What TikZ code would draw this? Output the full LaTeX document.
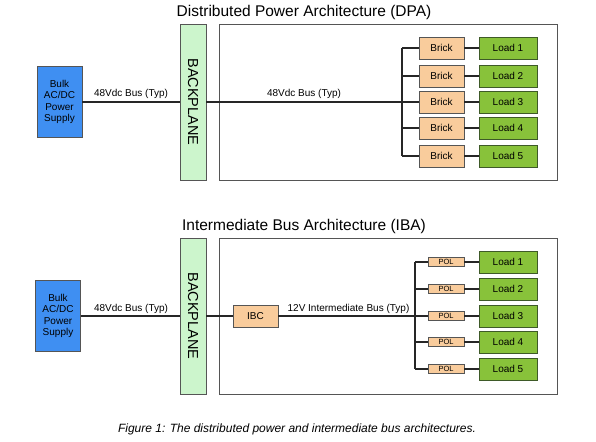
\documentclass[tikz,border=0pt]{standalone}
\usepackage{fontspec}
\setmainfont{Liberation Sans}
\definecolor{bulkblue}{HTML}{3F8FF2}
\definecolor{bpgreen}{HTML}{CCF5CC}
\definecolor{brickc}{HTML}{F9CC9C}
\definecolor{loadc}{HTML}{88C23A}
\definecolor{loadb}{HTML}{3E5A28}
\definecolor{edgec}{HTML}{555555}
\begin{document}
\begin{tikzpicture}[x=1pt,y=-1pt,
  bulk/.style={draw=edgec,line width=0.8pt,fill=bulkblue,minimum width=45pt,minimum height=71pt,inner sep=0pt,align=center,font=\fontsize{10}{11.5}\selectfont},
  bplane/.style={draw=edgec,line width=0.8pt,fill=bpgreen,minimum width=26pt,minimum height=156pt,inner sep=0pt},
  bigbox/.style={draw=edgec,line width=0.8pt},
  brick/.style={draw=edgec,line width=0.8pt,fill=brickc,minimum width=45pt,minimum height=22pt,inner sep=0pt,font=\fontsize{10}{12}\selectfont},
  pol/.style={draw=edgec,line width=0.8pt,fill=brickc,minimum width=36pt,minimum height=9pt,inner sep=0pt,font=\fontsize{7.5}{8}\selectfont},
  load/.style={draw=loadb,line width=0.8pt,fill=loadc,minimum width=58pt,minimum height=22pt,inner sep=0pt,font=\fontsize{10}{12}\selectfont},
  wire/.style={line width=1.1pt,black!85},
  lbl/.style={font=\fontsize{10}{12}\selectfont,inner sep=0pt,anchor=base},
  ttl/.style={font=\fontsize{15.5}{18}\selectfont,inner sep=0pt}]
\useasboundingbox (0,0) rectangle (596,441);

% ---------- DPA ----------
\node[ttl] (t1) at (304,12) {Distributed Power Architecture (DPA)};
\node[bulk] (bulk1) at (59.5,102) {Bulk\\AC/DC\\Power\\Supply};
\node[bplane] (bp1) at (193,102) {};
\node[rotate=-90,font=\fontsize{14.5}{16}\selectfont,inner sep=0pt] (bpt1) at (193,102) {BACKPLANE};
\node[bigbox,minimum width=338pt,minimum height=156pt,inner sep=0pt] (box1) at (388,102) {};
\coordinate (v1) at (402,102);
\coordinate (v1t) at (402,48);
\coordinate (v1b) at (402,156);
\draw[wire] (bulk1.east) -- (bp1.west);
\draw[wire] (bp1.east) -- (v1);
\draw[wire] (v1t) -- (v1b);
\node[lbl] (l1a) at (131,97) {48Vdc Bus (Typ)};
\node[lbl] (l1b) at (304,97) {48Vdc Bus (Typ)};
\foreach \i/\y in {1/48,2/76,3/102,4/128,5/156}{
  \node[brick] (br\i) at (441.5,\y) {Brick};
  \node[load] (ld\i) at (508,\y) {Load \i};
  \draw[wire] (402,\y) -- (br\i.west);
  \draw[wire] (br\i.east) -- (ld\i.west);
}

% ---------- IBA ----------
\node[ttl] (t2) at (304,226) {Intermediate Bus Architecture (IBA)};
\node[bulk] (bulk2) at (58,316) {Bulk\\AC/DC\\Power\\Supply};
\node[bplane] (bp2) at (193,316) {};
\node[rotate=-90,font=\fontsize{14.5}{16}\selectfont,inner sep=0pt] (bpt2) at (193,316) {BACKPLANE};
\node[bigbox,minimum width=338pt,minimum height=156pt,inner sep=0pt] (box2) at (388,316) {};
\node[brick] (ibc) at (255.5,316) {IBC};
\coordinate (v2) at (415,316);
\coordinate (v2t) at (415,262);
\coordinate (v2b) at (415,369);
\draw[wire] (bulk2.east) -- (bp2.west);
\draw[wire] (bp2.east) -- (ibc.west);
\draw[wire] (ibc.east) -- (v2);
\draw[wire] (v2t) -- (v2b);
\node[lbl] (l2a) at (131,311) {48Vdc Bus (Typ)};
\node[lbl] (l2b) at (348.5,311) {12V Intermediate Bus (Typ)};
\foreach \i/\y in {1/262,2/289,3/316,4/342,5/369}{
  \node[pol] (pl\i) at (446,\y) {POL};
  \node[load] (lo\i) at (508,\y) {Load \i};
  \draw[wire] (415,\y) -- (pl\i.west);
  \draw[wire] (pl\i.east) -- (lo\i.west);
}

\node[font=\itshape\fontsize{12}{14}\selectfont,inner sep=0pt] (cap) at (297,429) {Figure 1: The distributed power and intermediate bus architectures.};
\end{tikzpicture}
\end{document}
